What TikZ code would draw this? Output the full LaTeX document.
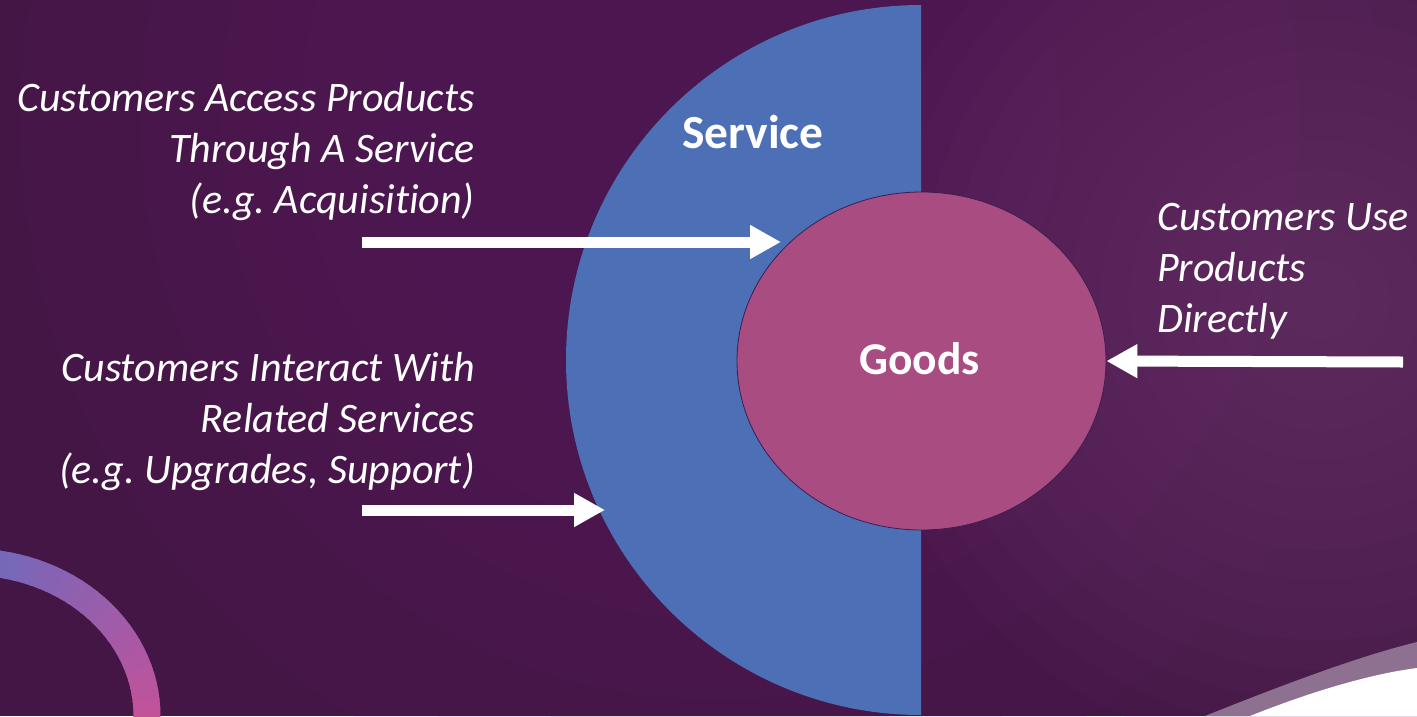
\documentclass[tikz,border=0pt]{standalone}
\usepackage{fontspec}
\setmainfont{Carlito}[Ligatures=NoCommon]
\frenchspacing
\usetikzlibrary{arrows.meta,shapes.geometric,calc}
\definecolor{bgA}{RGB}{68,22,70}
\definecolor{bgB}{RGB}{90,32,94}
\definecolor{bgC}{RGB}{112,58,112}
\definecolor{svcblue}{RGB}{77,111,181}
\definecolor{goodspink}{RGB}{168,76,130}
\definecolor{goodsline}{RGB}{60,30,80}
\definecolor{ringblue}{RGB}{95,110,195}
\definecolor{ringpink}{RGB}{200,80,152}
\definecolor{bandgrey}{RGB}{142,112,144}
\begin{document}
\begin{tikzpicture}[x=1pt,y=-1pt,
  lbl/.style={text=white,font=\fontsize{42}{51}\selectfont\itshape,inner sep=0pt},
  titletext/.style={text=white,font=\fontsize{47.5}{52}\selectfont\bfseries,inner sep=0pt},
  goodstext/.style={text=white,font=\fontsize{45.5}{50}\selectfont\bfseries},
  bigarrow/.style={draw=white,line width=11pt,-{Triangle[length=31pt,width=32pt]}}]
\useasboundingbox (0,0) rectangle (1417,716);
% background
\fill[bgA] (0,0) rectangle (1417,716);
\foreach \r in {700,660,...,40} {
  \fill[bgB, opacity=0.07] (720,120) circle[radius=\r];
}
\foreach \r in {460,430,...,30} {
  \fill[bgC, opacity=0.065] (1320,300) circle[radius=\r];
}
% bottom-left ring
\foreach \k in {0,...,36} {
  \pgfmathsetmacro{\a}{255+\k*3}
  \pgfmathsetmacro{\p}{100-\k*100/36}
  \draw[line width=27pt, ringblue!\p!ringpink]
    ($(-30,716)+(\a:177 and 154)$) arc[start angle=\a, end angle=\a+3.6, x radius=177, y radius=154];
}
% bottom-right band
\fill[bandgrey] (1205,716) .. controls (1290,682) and (1360,656) .. (1417,642) -- (1417,716) -- cycle;
\fill[white] (1250,716) .. controls (1310,692) and (1370,674) .. (1417,668) -- (1417,716) -- cycle;
% service half disc
\fill[svcblue] (921,5) arc[start angle=270, end angle=90, radius=355] -- cycle;
\node[titletext] (service) at (753,132) {Service};
% goods
\node[ellipse, draw=goodsline, line width=0.8pt, fill=goodspink, minimum width=369pt, minimum height=338pt, inner sep=0pt] (goods) at (921.5,361) {};
\node[goodstext, inner sep=0pt] (goodslbl) at (919.5,359) {Goods};
% labels
\node[lbl, align=right, anchor=base east] (t1) at (475,213) {Customers Access Products\\Through A Service\\(e.g. Acquisition)};
\node[lbl, align=right, anchor=base east] (t2) at (475,483) {Customers Interact With\\Related Services\\(e.g. Upgrades, Support)};
\node[lbl, align=left, anchor=base west] (t3) at (1157,332) {Customers Use\\Products\\Directly};
% arrows
\coordinate (a1s) at (362,242);
\coordinate (a1e) at (781,242);
\coordinate (a2s) at (362,510);
\coordinate (a2e) at (605,510);
\coordinate (a3s) at (1403,362);
\draw[bigarrow] (a1s) -- (a1e);
\draw[bigarrow] (a2s) -- (a2e);
\draw[bigarrow] (a3s) -- (goods.east);
\end{tikzpicture}
\end{document}
